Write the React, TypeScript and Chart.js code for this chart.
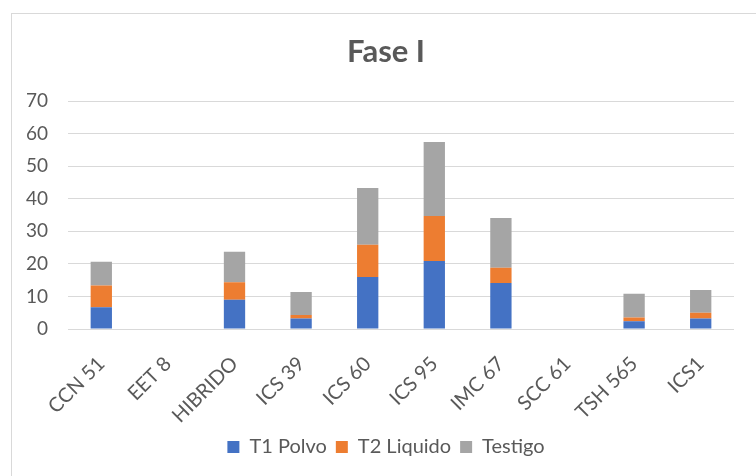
import React, { useEffect, useRef } from "react";
import { Chart, registerables } from "chart.js";

Chart.register(...registerables);

const categories = ["CCN 51", "EET 8", "HIBRIDO", "ICS 39", "ICS 60", "ICS 95", "IMC 67", "SCC 61", "TSH 565", "ICS1"];
const t1Polvo = [6.7, 0, 9.0, 3.2, 16.0, 20.9, 14.1, 0, 2.4, 3.2];
const t2Liquido = [6.7, 0, 5.4, 1.1, 9.9, 13.8, 4.7, 0, 1.1, 1.8];
const testigo = [7.3, 0, 9.3, 7.1, 17.4, 22.8, 15.3, 0, 7.3, 7.0];
const yTicks = [0, 10, 20, 30, 40, 50, 60, 70];

const FONT = "Lato, 'Open Sans', sans-serif";
const TEXT = "#595959";

export default function App() {
  const ref = useRef<HTMLCanvasElement | null>(null);
  useEffect(() => {
    if (!ref.current) return;
    const chart = new Chart(ref.current, {
      type: "bar",
      data: {
        labels: categories,
        datasets: [
          { label: "T1 Polvo", data: t1Polvo, backgroundColor: "#4472C4", barPercentage: 0.32, categoryPercentage: 1 },
          { label: "T2 Liquido", data: t2Liquido, backgroundColor: "#ED7D31", barPercentage: 0.32, categoryPercentage: 1 },
          { label: "Testigo", data: testigo, backgroundColor: "#A5A5A5", barPercentage: 0.32, categoryPercentage: 1 },
        ],
      },
      options: {
        animation: false,
        responsive: false,
        maintainAspectRatio: false,
        layout: { padding: { left: 0, right: 0, top: 0, bottom: 9 } },
        plugins: {
          title: {
            display: true,
            text: "Fase I",
            color: TEXT,
            font: { family: FONT, size: 31, weight: "bold" },
            padding: { top: 20, bottom: 31 },
          },
          legend: {
            position: "bottom",
            labels: {
              color: TEXT,
              font: { family: FONT, size: 20 },
              boxWidth: 12,
              boxHeight: 12,
              padding: 9,
            },
          },
          tooltip: { enabled: false },
        },
        scales: {
          x: {
            stacked: true,
            grid: { display: false },
            border: { display: false },
            ticks: {
              color: TEXT,
              font: { family: FONT, size: 20 },
              minRotation: 45,
              maxRotation: 45,
              padding: 15,
            },
            afterFit: (s: any) => {
              s.height = 99;
            },
          },
          y: {
            stacked: true,
            min: 0,
            max: 70,
            afterBuildTicks: (s: any) => {
              s.ticks = yTicks.map((v) => ({ value: v }));
            },
            grid: { color: "#D9D9D9", lineWidth: 1, drawTicks: false },
            border: { display: false },
            ticks: {
              color: TEXT,
              font: { family: FONT, size: 19 },
              padding: 20,
            },
            afterFit: (s: any) => {
              s.width = 57;
            },
          },
          spacer: {
            type: "linear",
            position: "right",
            display: true,
            grid: { display: false },
            border: { display: false },
            ticks: { display: false },
            afterFit: (s: any) => {
              s.width = 27;
            },
          },
        },
      },
    });
    return () => chart.destroy();
  }, []);

  return (
    <div style={{ position: "fixed", left: 0, top: 0, width: 756, height: 476, overflow: "hidden", background: "#fff" }}>
      <div
        style={{
          position: "absolute",
          left: 11,
          top: 13,
          width: 800,
          height: 500,
          border: "1px solid #D9D9D9",
          boxSizing: "border-box",
        }}
      />
      <canvas
        ref={ref}
        width={750}
        height={463}
        style={{ position: "absolute", left: 11, top: 13, width: 750, height: 463 }}
      />
    </div>
  );
}
